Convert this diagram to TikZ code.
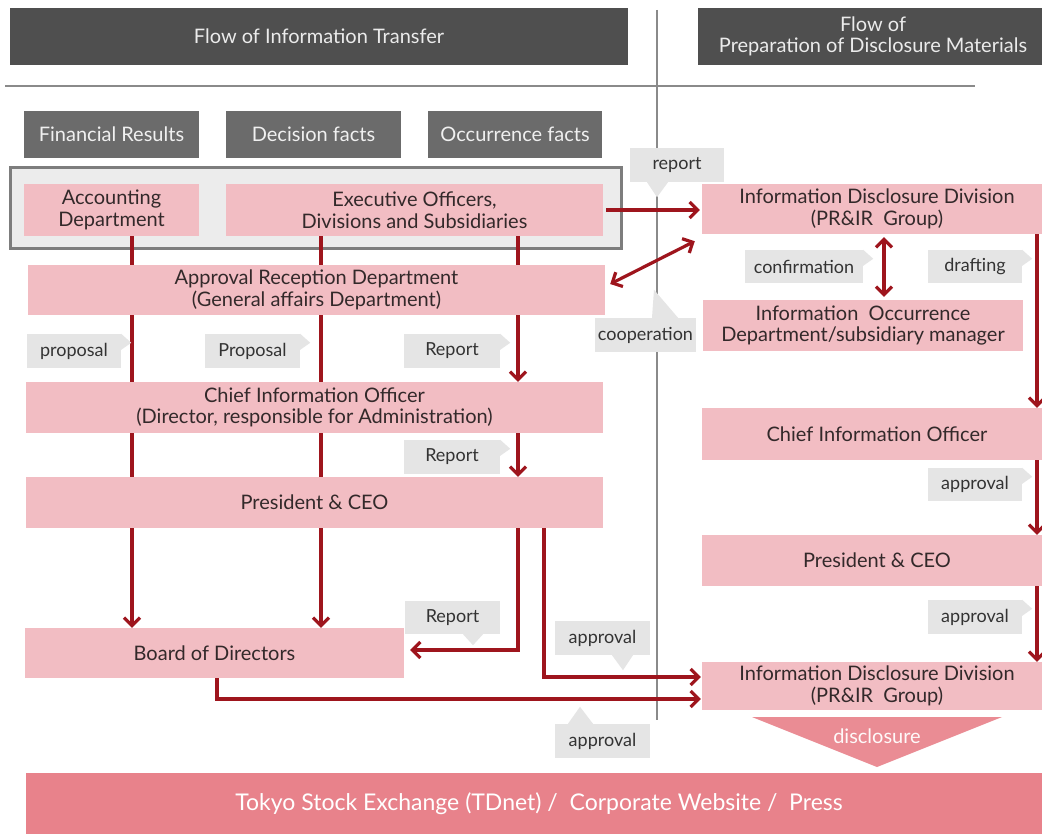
\documentclass[tikz,border=0pt]{standalone}
\usepackage{fontspec}
\setmainfont{Lato}
\usetikzlibrary{arrows.meta,calc}
\definecolor{titlegray}{HTML}{4F4F4F}
\definecolor{catgray}{HTML}{6B6B6B}
\definecolor{pinkbox}{HTML}{F2BDC3}
\definecolor{lblgray}{HTML}{E5E5E5}
\definecolor{outerfill}{HTML}{ECECEC}
\definecolor{outerline}{HTML}{7D7D7D}
\definecolor{arrred}{HTML}{9E151D}
\definecolor{tsepink}{HTML}{E8828B}
\definecolor{rulegray}{HTML}{8A8A8A}
\definecolor{boxtext}{HTML}{33292A}
\pgfdeclarelayer{bg}
\pgfdeclarelayer{arrlayer}
\pgfsetlayers{bg,arrlayer,main}
\begin{document}
\begin{tikzpicture}[x=1pt,y=-1pt,
 base/.style={rectangle, inner sep=0pt, align=center, font=\fontsize{20}{21.5}\selectfont},
 titlebox/.style={base, fill=titlegray, text=white!92!black},
 catbox/.style={base, fill=catgray, text=white!94!black, minimum height=47pt},
 pbox/.style={base, fill=pinkbox, text=boxtext},
 lbox/.style={base, fill=lblgray, text=black!80, minimum height=34pt, font=\fontsize{18}{20}\selectfont},
 lptr/.style={fill=lblgray},
 arr/.style={draw=arrred, line width=3.2pt, -{Straight Barb[length=8pt,width=16pt]}},
 darr/.style={draw=arrred, line width=3.2pt, {Straight Barb[length=8pt,width=16pt]}-{Straight Barb[length=8pt,width=16pt]}},
 rule/.style={draw=rulegray, line width=2pt},
]
\clip (0,0) rectangle (1042,834);
\begin{pgfonlayer}{bg}
\fill[white] (0,0) rectangle (1042,834);
\end{pgfonlayer}

% titles
\node[titlebox, minimum width=618pt, minimum height=57pt] (t1) at (319,36.5) {Flow of Information Transfer};
\node[titlebox, minimum width=350pt, minimum height=57pt] (t2) at (873,36.5) {Flow of\\Preparation of Disclosure Materials};

% rules
\coordinate (hl1) at (5,86);
\coordinate (hl2) at (975,86);
\coordinate (vl1) at (657,10);
\coordinate (vl2) at (657,720);
\begin{pgfonlayer}{bg}
\draw[rule] (hl1) -- (hl2);
\draw[rule] (vl1) -- (vl2);
\end{pgfonlayer}

% categories
\node[catbox, minimum width=175pt] (c1) at (111.5,134.5) {Financial Results};
\node[catbox, minimum width=175pt] (c2) at (313.5,134.5) {Decision facts};
\node[catbox, minimum width=174pt] (c3) at (515,134.5) {Occurrence facts};

% group box
\begin{pgfonlayer}{bg}
\node[draw=outerline, fill=outerfill, line width=3pt, inner sep=0pt, minimum width=611pt, minimum height=81pt] (grp) at (315.5,208.5) {};
\end{pgfonlayer}

% left boxes
\node[pbox, minimum width=175pt, minimum height=52pt] (acc) at (111.5,210) {Accounting\\Department};
\node[pbox, minimum width=377pt, minimum height=52pt] (exe) at (414.5,210) {Executive Officers,\\Divisions and Subsidiaries};
\node[pbox, minimum width=577pt, minimum height=50pt] (apr) at (316.5,290) {Approval Reception Department\\(General affairs Department)};
\node[pbox, minimum width=577pt, minimum height=51pt] (cio) at (314.5,407.5) {Chief Information Officer\\(Director, responsible for Administration)};
\node[pbox, minimum width=577pt, minimum height=51pt] (pre) at (314.5,502.5) {President \& CEO};
\node[pbox, minimum width=379pt, minimum height=50pt] (bod) at (214.5,653) {Board of Directors};

% right boxes
\node[pbox, minimum width=350pt, minimum height=50pt] (idd1) at (877,209) {Information Disclosure Division\\(PR\&IR\ \ Group)};
\node[pbox, minimum width=320pt, minimum height=51pt] (ioc) at (863,325.5) {Information\ \ Occurrence\\Department/subsidiary manager};
\node[pbox, minimum width=350pt, minimum height=52pt] (cio2) at (877,434) {Chief Information Officer};
\node[pbox, minimum width=350pt, minimum height=51pt] (pre2) at (877,560.5) {President \& CEO};
\node[pbox, minimum width=350pt, minimum height=48pt] (idd2) at (877,686) {Information Disclosure Division\\(PR\&IR\ \ Group)};

% bottom bar and disclosure
\node[base, fill=tsepink, text=white, minimum width=1026pt, minimum height=61pt, font=\fontsize{23}{25}\selectfont] (tse) at (539,803.5) {Tokyo Stock Exchange (TDnet) /\ \ Corporate Website /\ \ Press};
\fill[tsepink!92!white] (752,717) -- (1002,717) -- (877,767) -- cycle;
\node[base, text=white!95!tsepink] (disc) at (877,736) {disclosure};

% labels
\node[lbox, minimum width=94pt] (rpt) at (677,165) {report};
\fill[lptr] ([xshift=-30pt]rpt.south) -- ++(10,15) -- ++(11,-15) -- cycle;
\node[lbox, minimum width=118pt, minimum height=33pt] (conf) at (804,266.5) {confirmation};
\fill[lptr] (conf.north east) -- ++(10,9) -- ++(-10,7) -- cycle;
\node[lbox, minimum width=94pt, minimum height=33pt] (draft) at (975,266.5) {drafting};
\fill[lptr] (draft.north east) -- ++(10,9) -- ++(-10,7) -- cycle;
\node[lbox, minimum width=101pt] (coop) at (645.5,335) {cooperation};
\fill[lptr] ([xshift=6.5pt]coop.north) -- ++(2,-28) -- ++(24,28) -- cycle;
\node[lbox, minimum width=94pt] (prop1) at (74,351) {proposal};
\fill[lptr] (prop1.north east) -- ++(10,9) -- ++(-10,7) -- cycle;
\node[lbox, minimum width=95pt] (prop2) at (252.5,351) {Proposal};
\fill[lptr] (prop2.north east) -- ++(10,9) -- ++(-10,7) -- cycle;
\node[lbox, minimum width=96pt] (rep1) at (452,351) {Report};
\fill[lptr] (rep1.north east) -- ++(10,9) -- ++(-10,7) -- cycle;
\node[lbox, minimum width=96pt] (rep2) at (452,457) {Report};
\fill[lptr] (rep2.north east) -- ++(10,9) -- ++(-10,7) -- cycle;
\node[lbox, minimum width=95pt, minimum height=33pt] (rep3) at (452.5,617.5) {Report};
\fill[lptr] ([xshift=10.5pt]rep3.south) -- ++(10,11) -- ++(10,-11) -- cycle;
\node[lbox, minimum width=94pt, minimum height=33pt] (apv1) at (975,484.5) {approval};
\fill[lptr] (apv1.north east) -- ++(10,9) -- ++(-10,7) -- cycle;
\node[lbox, minimum width=94pt] (apv2) at (975,617) {approval};
\fill[lptr] (apv2.north east) -- ++(10,9) -- ++(-10,7) -- cycle;
\node[lbox, minimum width=95pt] (apl1) at (602.5,638) {approval};
\fill[lptr] ([xshift=9.5pt]apl1.south) -- ++(11,15) -- ++(10,-15) -- cycle;
\node[lbox, minimum width=95pt] (apl2) at (602.5,741) {approval};
\fill[lptr] ([xshift=-34.5pt]apl2.north) -- ++(12,-17) -- ++(13,17) -- cycle;

% arrows
\begin{pgfonlayer}{arrlayer}
\draw[arr] ([xshift=20.5pt]acc.south) -- ([xshift=20.5pt]acc.south |- bod.north);
\draw[arr] ([xshift=-93.5pt]exe.south) -- ([xshift=-93.5pt]exe.south |- bod.north);
\draw[arr] ([xshift=103.5pt]exe.south) -- ([xshift=103.5pt]exe.south |- cio.north);
\draw[arr] ([xshift=203.5pt]cio.south) -- ([xshift=203.5pt]cio.south |- pre.north);
\draw[arr] ([xshift=203.5pt]pre.south) |- ([xshift=6pt,yshift=3pt]bod.east);
\draw[arr] ([xshift=229.5pt]pre.south) |- ([xshift=-1pt,yshift=9pt]idd2.west);
\draw[arr] ([xshift=2.5pt]bod.south) |- ([xshift=-1pt,yshift=-13pt]idd2.west);
\draw[arr] ([xshift=3pt]exe.east) -- ([xshift=-2pt]exe.east -| idd1.west);
\draw[darr] ([xshift=-7pt,yshift=-7pt]idd1.south west) -- ([xshift=5pt,yshift=6pt]apr.east);
\draw[darr] ([xshift=7pt,yshift=-3pt]idd1.south) -- ([xshift=7pt,yshift=3pt]idd1.south |- ioc.north);
\draw[arr] ([xshift=160pt]idd1.south) -- ([xshift=160pt]idd1.south |- cio2.north);
\draw[arr] ([xshift=160pt]cio2.south) -- ([xshift=160pt]cio2.south |- pre2.north);
\draw[arr] ([xshift=160pt]pre2.south) -- ([xshift=160pt]pre2.south |- idd2.north);
\end{pgfonlayer}
\end{tikzpicture}
\end{document}
